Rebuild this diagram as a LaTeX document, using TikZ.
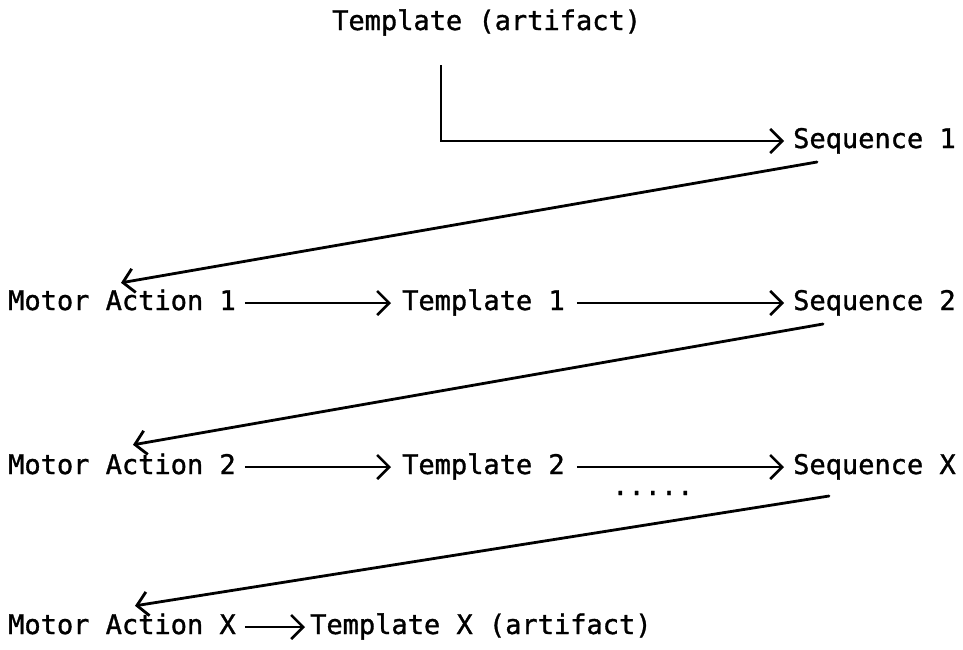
\documentclass[tikz,border=0pt]{standalone}
\usepackage{fontspec}
\newfontfamily\twfont[FakeBold=1.2]{DejaVu Sans Mono}
\usetikzlibrary{arrows.meta}
\begin{document}
\begin{tikzpicture}[x=1pt,y=-1pt,
  lbl/.style={anchor=base west,inner sep=0pt,text height=14pt,text depth=0pt,
    font=\twfont\fontsize{27}{32}\selectfont},
  harr/.style={line width=2.2pt,-{Straight Barb[length=12pt,width=24pt,line width=2.6pt]},line join=round},
  darr/.style={line width=2.8pt,-{Straight Barb[length=11pt,width=24pt,line width=2.8pt]},line cap=round}]
\useasboundingbox (0,0) rectangle (963,649);
% texts
\node[lbl] (top) at (332,30) {Template (artifact)};
\node[lbl] (seq1) at (793,148) {Sequence 1};
\node[lbl] (ma1) at (8,310) {Motor Action 1};
\node[lbl] (t1) at (402,310) {Template 1};
\node[lbl] (seq2) at (793,310) {Sequence 2};
\node[lbl] (ma2) at (8,474) {Motor Action 2};
\node[lbl] (t2) at (402,474) {Template 2};
\node[lbl] (seqx) at (793,474) {Sequence X};
\node[lbl] (dots) at (612,495) {.....};
\node[lbl] (max) at (8,634) {Motor Action X};
\node[lbl] (tx) at (310,634) {Template X (artifact)};
% top connector
\draw[harr,line join=miter] ([xshift=109pt,yshift=-35pt]top.base west) |- ([xshift=-9pt]seq1.west);
% row arrows
\draw[harr,shorten <=9pt,shorten >=11pt] (ma1.east) -- (t1.west);
\draw[harr,shorten <=12pt,shorten >=9pt] (t1.east) -- (seq2.west);
\draw[harr,shorten <=9pt,shorten >=11pt] (ma2.east) -- (t2.west);
\draw[harr,shorten <=12pt,shorten >=9pt] (t2.east) -- (seqx.west);
\draw[harr,shorten <=9pt,shorten >=5pt] (max.east) -- (tx.west);
% diagonals
\draw[darr] ([xshift=24pt,yshift=-14pt]seq1.base west) -- ([xshift=113pt,yshift=13pt]ma1.north west);
\draw[darr] ([xshift=30pt,yshift=-14pt]seq2.base west) -- ([xshift=125pt,yshift=15pt]ma2.north west);
\draw[darr] ([xshift=36pt,yshift=-22pt]seqx.base west) -- ([xshift=127pt,yshift=14pt]max.north west);
\end{tikzpicture}
\end{document}
